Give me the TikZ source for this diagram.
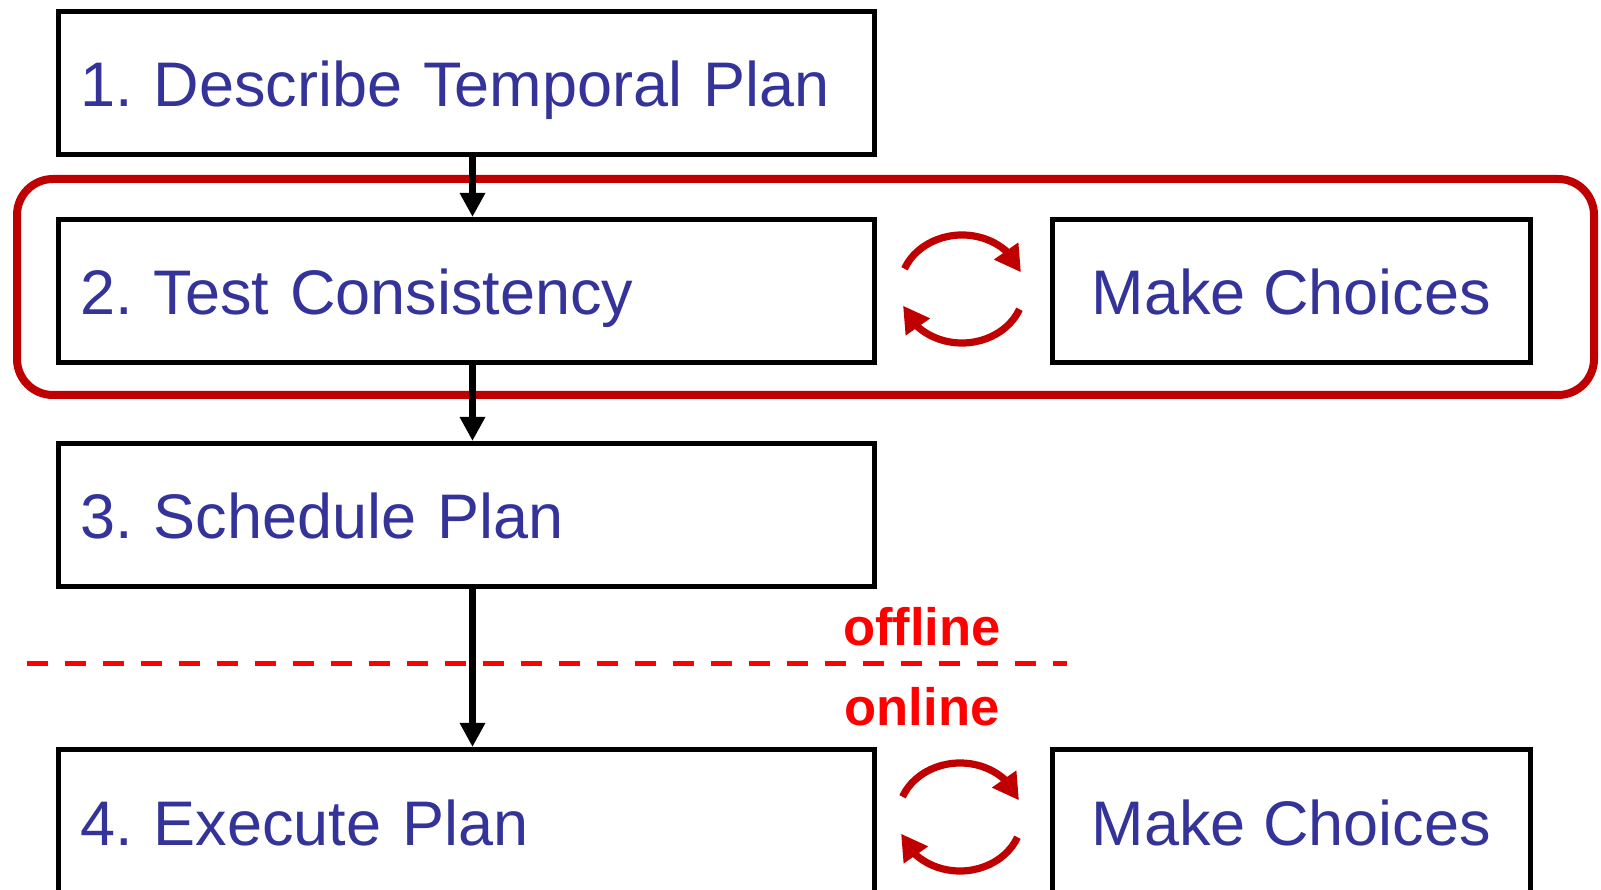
\documentclass[tikz,border=0pt]{standalone}
\usepackage{fontspec}
\setmainfont{Liberation Sans}
\frenchspacing
\usetikzlibrary{positioning}
\usetikzlibrary{arrows.meta,bending}

\definecolor{planblue}{HTML}{333399}
\definecolor{loopred}{HTML}{C00000}
\definecolor{cutred}{HTML}{FF0000}

\tikzset{
  stage/.style={draw, rectangle, line width=2.5pt, text=planblue,
    font=\fontsize{31.5}{36}\selectfont, text height=28pt, text depth=4pt,
    minimum height=71.5pt},
  planstep/.style={stage, text width=386.5pt, inner xsep=10.75pt, align=left},
  choicebox/.style={stage, minimum width=239pt},
  flow/.style={line width=3.5pt, -{Triangle[length=12pt,width=12pt]}},
  roundtrip/.style={line width=3.6pt, draw=loopred, -{Triangle[length=13pt,width=14pt,flex]}},
  group/.style={draw=loopred, line width=4pt, rounded corners=18pt},
  cutline/.style={draw=cutred, line width=2.5pt, dash pattern=on 10.5pt off 8.5pt},
  phase/.style={text=cutred, font=\fontsize{26.3}{30}\selectfont\bfseries, anchor=base}
}

\begin{document}
\begin{tikzpicture}[x=0.5pt, y=0.5pt]

	\clip (0,0) rectangle (1601,889);

	%Steps
	\node[planstep] (B1) at (466.5,806) {1. Describe Temporal Plan};
	\node[planstep] (B2) at (466.5,598) {2. Test Consistency};
	\node[planstep] (B3) at (466.5,374) {3. Schedule Plan};
	\node[planstep] (B4) at (466.5,68) {4. Execute Plan};

	\node[choicebox] (MC1) at (1291.5,598) {Make Choices};
	\node[choicebox] (MC2) at (1291.5,68) {Make Choices};

	%Helper points
	\coordinate (cyc1) at (962,600);
	\coordinate (cyc2) at (960,72);
	\coordinate (grpA) at (17,710);
	\coordinate (grpB) at (1594,494);
	\coordinate (cutL) at (27,225);
	\coordinate (cutR) at (1067,225);

	%Offline / online
	\draw[group] (grpA) rectangle (grpB);
	\draw[cutline] (cutL) -- (cutR);
	\node[phase] (off) at (922,243) {offline};
	\node[phase] (on) at (922,163) {online};

	%Flow
	\draw[flow] ([xshift=3pt]B1.south) -- ([xshift=3pt]B2.north);
	\draw[flow] ([xshift=3pt]B2.south) -- ([xshift=3pt]B3.north);
	\draw[flow] ([xshift=3pt]B3.south) -- ([xshift=3pt]B4.north);

	%Choice loops
	\draw[roundtrip] ([shift={(158:31pt and 27pt)}]cyc1) arc[start angle=158, end angle=18, x radius=31pt, y radius=27pt];
	\draw[roundtrip] ([shift={(-22:31pt and 27pt)}]cyc1) arc[start angle=-22, end angle=-162, x radius=31pt, y radius=27pt];
	\draw[roundtrip] ([shift={(158:31pt and 27pt)}]cyc2) arc[start angle=158, end angle=18, x radius=31pt, y radius=27pt];
	\draw[roundtrip] ([shift={(-22:31pt and 27pt)}]cyc2) arc[start angle=-22, end angle=-162, x radius=31pt, y radius=27pt];

\end{tikzpicture}
\end{document}
